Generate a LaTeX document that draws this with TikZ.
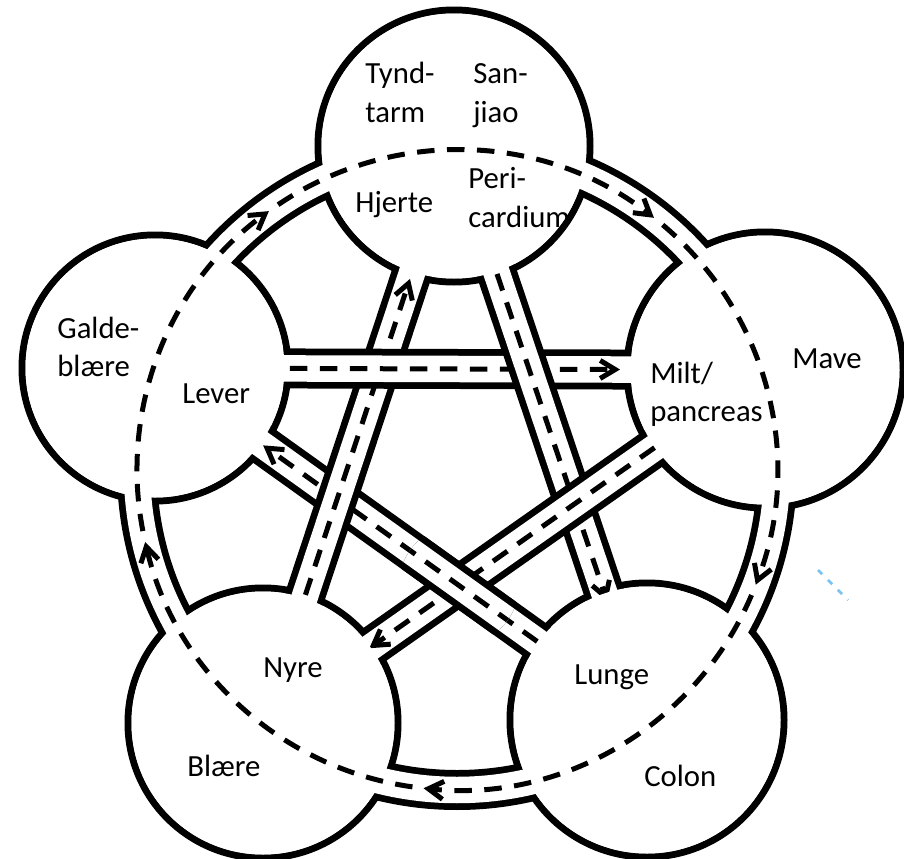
\documentclass[tikz,border=0pt]{standalone}
\usepackage{fontspec}
\setmainfont{Carlito}
\usetikzlibrary{arrows.meta,calc}
\newcommand\drawroad[4]{%
  \draw[roadblack] (#1) -- (#2);
  \draw[roadwhite] (#1) -- (#2);
  \draw[flowarrow] ($(#1)!#3!(#2)$) -- ($(#2)!#4!(#1)$);
}
\begin{document}
\begin{tikzpicture}[x=0.02cm,y=-0.02cm,
  roadblack/.style={line width=0.8cm,black},
  roadwhite/.style={line width=0.53cm,white},
  flow/.style={line width=0.1cm,dash pattern=on 0.35cm off 0.25cm},
  flowarrow/.style={flow,-{Straight Barb[length=0.3cm,width=0.36cm]}},
  lbl/.style={inner sep=0pt,anchor=base west,font=\fontsize{17.5}{20}\selectfont}
]
\useasboundingbox (0,0) rectangle (904,859);
\fill[white] (0,0) rectangle (904,859);
\coordinate (fire) at (454,146);
\coordinate (wood) at (155,368);
\coordinate (earth) at (765,370);
\coordinate (water) at (263,723);
\coordinate (metal) at (647,720);
\coordinate (ctr) at (457,470);
% outline of circles and ring road
\foreach \c/\r in {fire/136,wood/133,earth/138,water/135,metal/137}{
  \fill[black] (\c) circle[radius=\r+3.5];
}
\draw[roadblack] (ctr) circle[radius=320];
\foreach \c/\r in {fire/136,wood/133,earth/138,water/135,metal/137}{
  \fill[white] (\c) circle[radius=\r-3.5];
}
\draw[roadwhite] (ctr) circle[radius=320];
% woven star roads
\drawroad{metal}{wood}{2.7cm}{2.66cm}
\drawroad{water}{fire}{2.7cm}{2.8cm}
\drawroad{wood}{earth}{2.7cm}{2.9cm}
\drawroad{fire}{metal}{2.7cm}{2.5cm}
\drawroad{earth}{water}{2.7cm}{2.6cm}
\begin{scope}
  \clip (459,585) circle[radius=60];
  \drawroad{metal}{wood}{2.7cm}{2.66cm}
\end{scope}
% clear the circle interiors
\foreach \c/\r in {fire/136,wood/133,earth/138,water/135,metal/137}{
  \fill[white] (\c) circle[radius=\r-3.5];
}
% generating cycle (dashed ring with arrows)
\draw[flowarrow] ([shift={(ctr)}]-191:320) arc[start angle=-191, end angle=-126, radius=320];
\draw[flowarrow] ([shift={(ctr)}]-124:320) arc[start angle=-124, end angle=-52, radius=320];
\draw[flowarrow] ([shift={(ctr)}]-50:320) arc[start angle=-50, end angle=21, radius=320];
\draw[flowarrow] ([shift={(ctr)}]23:320) arc[start angle=23, end angle=96, radius=320];
\draw[flowarrow] ([shift={(ctr)}]98:320) arc[start angle=98, end angle=167, radius=320];
% faint blue mark
\draw[line width=0.05cm,color={rgb,255:red,120;green,195;blue,240},dash pattern=on 0.12cm off 0.16cm] (818,570) -- (848,600);
% labels
\node[lbl] (t1) at (365,83) {Tynd-};
\node[lbl] (t2) at (365,122) {tarm};
\node[lbl] (s1) at (473,83) {San-};
\node[lbl] (s2) at (473,122) {jiao};
\node[lbl] (hj) at (355,212) {Hjerte};
\node[lbl] (p1) at (468,188) {Peri-};
\node[lbl] (p2) at (468,227) {cardium};
\node[lbl] (g1) at (57,338) {Galde-};
\node[lbl] (g2) at (57,376) {blære};
\node[lbl] (lv) at (182,403) {Lever};
\node[lbl] (mv) at (792,368) {Mave};
\node[lbl] (m1) at (650,383) {Milt/};
\node[lbl] (m2) at (650,421) {pancreas};
\node[lbl] (ny) at (263,677) {Nyre};
\node[lbl] (bl) at (187,776) {Blære};
\node[lbl] (lu) at (574,684) {Lunge};
\node[lbl] (co) at (644,786) {Colon};
\end{tikzpicture}
\end{document}
